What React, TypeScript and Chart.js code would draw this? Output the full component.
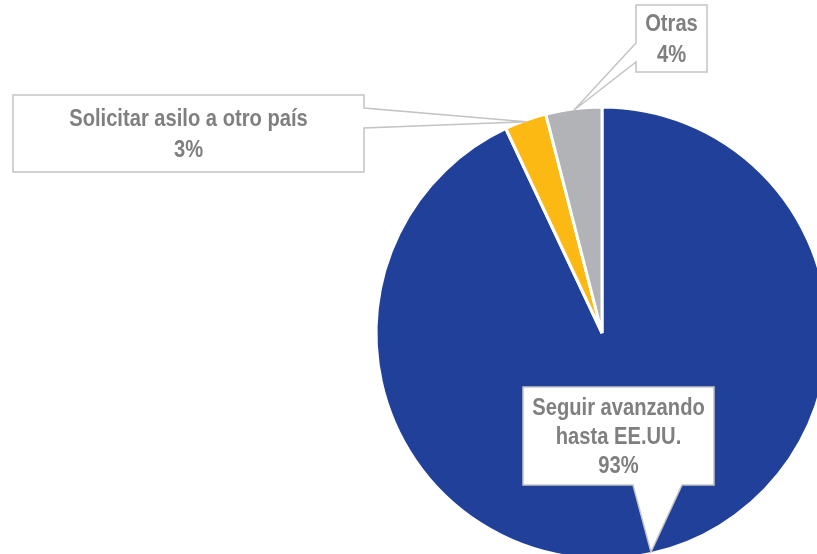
import React, { useEffect, useRef } from "react";
import { Chart, registerables } from "chart.js";

Chart.register(...registerables);

// ---- Data ----
const categories = ["Seguir avanzando hasta EE.UU.", "Solicitar asilo a otro país", "Otras"];
const values = [93, 3, 4];
const colors = ["#21409a", "#fdb913", "#b1b3b6"];
// label text lines as shown in the callouts
const labelLines = [["Seguir avanzando", "hasta EE.UU."], ["Solicitar asilo a otro país"], ["Otras"]];

// ---- Callout layout (boxes; pointer tips come from the arcs) ----
type Callout = { x0: number; y0: number; x1: number; y1: number; side: "bottom" | "right" | "left"; b0: number; b1: number };
const callouts: Callout[] = [
  { x0: 523, y0: 387, x1: 714, y1: 485, side: "bottom", b0: 633, b1: 682 },
  { x0: 13, y0: 95, x1: 364, y1: 172, side: "right", b0: 108, b1: 128 },
  { x0: 636, y0: 5, x1: 707, y1: 72, side: "left", b0: 43, b1: 62 },
];

const FONT = "bold 24px 'Liberation Sans', Arial, sans-serif";
const CONDENSE = 0.84;

const calloutPlugin = {
  id: "callouts",
  afterDatasetsDraw(chart: any) {
    const ctx = chart.ctx;
    const meta = chart.getDatasetMeta(0);
    meta.data.forEach((arc: any, i: number) => {
      const c = callouts[i];
      if (!c) return;
      const { x, y, startAngle, endAngle, outerRadius } = arc.getProps(["x", "y", "startAngle", "endAngle", "outerRadius"], true);
      const mid = (startAngle + endAngle) / 2;
      const r = outerRadius - 1.5;
      const tx = x + Math.cos(mid) * r;
      const ty = y + Math.sin(mid) * r;
      ctx.save();
      ctx.beginPath();
      ctx.moveTo(c.x0, c.y0);
      ctx.lineTo(c.x1, c.y0);
      if (c.side === "right") {
        ctx.lineTo(c.x1, c.b0);
        ctx.lineTo(tx, ty);
        ctx.lineTo(c.x1, c.b1);
      }
      ctx.lineTo(c.x1, c.y1);
      if (c.side === "bottom") {
        ctx.lineTo(c.b1, c.y1);
        ctx.lineTo(tx, ty);
        ctx.lineTo(c.b0, c.y1);
      }
      ctx.lineTo(c.x0, c.y1);
      if (c.side === "left") {
        ctx.lineTo(c.x0, c.b1);
        ctx.lineTo(tx, ty);
        ctx.lineTo(c.x0, c.b0);
      }
      ctx.closePath();
      ctx.fillStyle = "#ffffff";
      ctx.fill();
      ctx.lineWidth = 1.5;
      ctx.strokeStyle = "#c3c3c3";
      ctx.lineJoin = "miter";
      ctx.stroke();

      const lines = [...labelLines[i], values[i] + "%"];
      const spacing = lines.length > 2 ? 29 : 31;
      const cx = (c.x0 + c.x1) / 2;
      const cy = (c.y0 + c.y1) / 2;
      ctx.font = FONT;
      ctx.fillStyle = "#7f7f7f";
      ctx.textAlign = "center";
      ctx.textBaseline = "middle";
      lines.forEach((t, k) => {
        ctx.save();
        ctx.translate(cx, cy + (k - (lines.length - 1) / 2) * spacing + 1);
        ctx.scale(CONDENSE, 1);
        ctx.fillText(t, 0, 0);
        ctx.restore();
      });
      ctx.restore();
    });
  },
};

export default function App() {
  const ref = useRef<HTMLCanvasElement>(null);
  useEffect(() => {
    if (!ref.current) return;
    const chart = new Chart(ref.current, {
      type: "pie",
      data: {
        labels: categories,
        datasets: [
          {
            data: values,
            backgroundColor: colors,
            borderColor: "#ffffff",
            borderWidth: 3,
          },
        ],
      },
      options: {
        animation: false,
        responsive: false,
        devicePixelRatio: 1,
        layout: { padding: { top: 105.5, bottom: 105.5, left: 0, right: 0 } },
        plugins: { legend: { display: false }, tooltip: { enabled: false } },
        events: [],
      },
      plugins: [calloutPlugin],
    });
    return () => chart.destroy();
  }, []);
  return (
    <div style={{ position: "fixed", left: 0, top: 0, width: 817, height: 554, overflow: "hidden", background: "#fff" }}>
      <canvas ref={ref} width={1204} height={666} style={{ display: "block" }} />
    </div>
  );
}
